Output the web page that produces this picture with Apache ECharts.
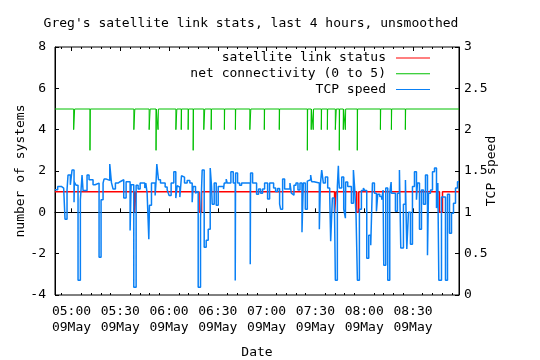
<!DOCTYPE html>
<html><head><meta charset="utf-8">
<script src="https://cdn.jsdelivr.net/npm/echarts@6/dist/echarts.min.js"></script>
<style>html,body{margin:0;padding:0;background:#fff}#c{width:540px;height:360px}</style>
</head><body><div id="c"></div>
<script>
const titleText = "Greg's satellite link stats, last 4 hours, unsmoothed";
const seriesNames = ['satellite link status', 'net connectivity (0 to 5)', 'TCP speed'];
const xName = 'Date', yName = 'number of systems', y2Name = 'TCP speed';
const dayLabel = '09May';
// time in minutes after midnight
const timeMin = 289.85, timeMax = 538.3;
const majorTicks = [300, 330, 360, 390, 420, 450, 480, 510];
const minorTicks = [294, 306, 312, 318, 324, 336, 342, 348, 354, 366, 372, 378, 384, 396, 402, 408, 414, 426, 432, 438, 444, 456, 462, 468, 474, 486, 492, 498, 504, 516, 522, 528, 534];

const linkTimes  = [289.85, 338.75, 339.58, 378.45, 380.00, 461.78, 462.71, 475.42, 476.66, 526.29, 528.15, 538.3];
const linkStatus = [1, 0, 1, 0, 1, 0, 1, 0, 1, 0, 1, 1];

const netTimes = [289.85, 301.33, 301.93, 311.36, 311.56, 338.34, 338.94, 347.75, 348.35, 351.99, 352.19,
  353.23, 353.43, 364.19, 364.79, 367.49, 367.69, 371.73, 371.93, 374.83, 375.03, 381.35, 381.95,
  385.90, 386.10, 394.01, 394.21, 400.78, 400.98, 409.67, 410.27, 418.57, 418.77, 427.77, 427.97,
  445.03, 445.23, 447.41, 447.61, 448.65, 448.85, 453.61, 453.81, 457.33, 457.53, 462.24, 462.84,
  464.67, 464.87, 467.15, 467.35, 468.40, 468.60, 475.74, 475.94, 489.95, 490.15, 496.72, 496.92,
  505.30, 505.50, 538.3];
const netConn = [5, 4, 5, 3, 5, 4, 5, 4, 5, 3, 5,
  4, 5, 4, 5, 4, 5, 4, 5, 3, 5, 4, 5,
  4, 5, 4, 5, 4, 5, 4, 5, 4, 5, 4, 5,
  3, 5, 4, 5, 4, 5, 4, 5, 4, 5, 4, 5,
  3, 5, 4, 5, 4, 5, 3, 5, 4, 5, 4, 5,
  4, 5, 5];

const tcpTimes = [289.85, 291.50, 293.75, 295.19, 296.01, 297.25, 297.86, 299.29, 300.32, 301.56, 301.75, 302.79,
  304.02, 305.45, 306.48, 307.10, 309.56, 310.79, 313.25, 314.49, 316.95, 318.18, 319.41, 320.02, 321.46,
  323.52, 324.54, 325.56, 327.00, 328.64, 329.87, 332.14, 333.58, 336.04, 336.66, 338.30, 339.74, 340.97,
  342.20, 345.07, 345.69, 346.51, 347.54, 347.95, 349.18, 351.44, 352.05, 352.46, 353.49, 354.72, 357.59,
  358.82, 360.03, 361.27, 362.91, 364.14, 364.96, 365.79,
  366.62, 367.64, 368.26, 369.49, 371.13, 372.78, 374.21, 374.83, 376.27, 377.09, 377.91, 379.34, 380.37,
  381.60, 382.84, 384.07, 385.30, 386.12, 386.53, 387.76, 388.99, 390.22, 393.51, 393.92, 395.15, 395.76,
  398.02, 399.46, 400.69, 400.90, 402.13, 403.36, 404.59, 409.92, 410.13, 411.36, 413.82, 415.05, 416.28,
  417.51, 418.75, 420.59, 421.82, 424.29, 425.52, 426.75, 427.98, 428.60, 429.83, 431.06, 434.35, 435.17,
  436.00, 436.81, 438.04, 439.27, 440.51, 441.74, 442.56, 443.79, 445.02, 445.85, 447.08,
  447.69, 449.13, 452.41, 453.03, 453.86, 454.88, 456.11, 457.55, 458.78, 459.39, 460.42, 461.65, 462.26,
  463.49, 464.11, 464.32, 464.74, 466.17, 467.40, 468.43, 468.63, 469.86, 472.12, 473.36, 474.17, 474.99,
  475.82, 477.05, 478.28, 479.51, 480.34, 481.57, 482.80, 484.03, 485.06, 486.29, 487.52, 488.34, 489.57,
  490.80, 491.62, 492.03, 493.26, 494.49, 495.72, 496.55, 496.75, 499.21, 500.44, 501.67, 502.49, 504.13,
  505.36, 506.19, 507.22, 508.45, 509.68, 510.91, 512.14, 512.76, 513.99, 515.22, 516.45, 517.69, 518.92,
  519.53, 520.76, 522.00, 523.23, 524.46, 525.28, 525.89, 527.53, 529.99, 531.23, 532.46, 533.69, 534.92,
  536.15, 537.38, 538.3];
const tcpSpeed = [1.273, 1.313, 1.293, 1.281, 0.917, 1.273, 1.451, 1.333, 1.511, 1.123, 1.366, 1.329,
  0.178, 1.152, 1.451, 1.265, 1.451, 1.394, 1.333, 1.354, 0.457, 1.152, 1.354, 1.402, 1.386,
  1.584, 1.362, 1.281, 1.354, 1.370, 1.394, 1.172, 1.370, 0.780, 1.333, 0.093, 1.329, 1.281,
  1.354, 1.293, 1.354, 1.232, 0.675, 1.087, 1.354, 1.204, 1.394, 1.584, 1.394, 1.354, 1.305,
  1.273, 1.204, 1.354, 1.491, 1.172, 1.321, 1.305,
  1.184, 1.442, 1.426, 1.354, 1.386, 1.354, 1.123, 1.313, 1.232, 1.253, 0.093, 0.929, 1.511,
  0.578, 0.663, 0.796, 1.535, 1.313, 1.099, 1.354, 1.087, 1.313, 1.281, 1.354, 1.402, 1.354,
  1.491, 1.354, 0.174, 1.475, 1.354, 1.329, 1.354, 0.372, 1.475, 1.354, 1.220, 1.281, 1.232,
  1.281, 1.354, 1.160, 1.354, 1.293, 1.253, 1.289, 1.099, 1.038, 1.402, 1.281, 1.354, 1.232,
  1.208, 1.329, 1.354, 1.269, 1.354, 0.760, 1.354, 1.038, 1.378, 1.394, 1.451,
  1.370, 1.354, 0.796, 1.329, 1.511, 1.354, 1.426, 1.293, 1.212, 0.650, 1.172, 1.160, 0.178,
  1.313, 1.564, 1.422, 1.293, 1.426, 1.038, 0.929, 1.366, 1.313, 1.111, 1.511, 1.281, 0.966,
  0.178, 1.038, 1.265, 1.293, 1.265, 0.444, 0.723, 0.602, 1.354, 1.232, 1.010, 1.220, 1.192,
  1.152, 1.269, 0.360, 1.293, 0.178, 1.232, 1.366, 1.232, 1.014, 1.232, 1.511, 0.570, 1.099,
  1.390, 0.558, 1.002, 0.614, 1.313, 1.491, 1.152, 1.354, 0.796, 1.269, 1.099, 1.451, 0.481,
  1.232, 1.269, 1.491, 1.535, 1.051, 1.354, 0.178, 1.184, 0.178, 1.220, 0.747, 0.990, 1.111,
  1.293, 1.370, 1.370];

const FONT = 'DejaVu Sans Mono';
const FS = 13;
const txt = {fontFamily: FONT, fontSize: FS, color: '#000'};
const pair = (xs, ys) => xs.map((x, i) => [x, ys[i]]);
const pad = n => (n < 10 ? '0' : '') + n;
const fmtTime = v => { const h = Math.floor(v / 60), m = Math.round(v - h * 60); return pad(h) + ':' + pad(m) + '\n' + dayLabel; };

const blk = {color: '#000', width: 1};
function xAx(pos, ticks, len, labels) {
  return {
    type: 'value', min: timeMin, max: timeMax, position: pos,
    axisLine: {show: labels, lineStyle: blk},
    axisTick: {show: true, inside: true, length: len, customValues: ticks, lineStyle: blk},
    axisLabel: labels ? Object.assign({show: true, customValues: ticks, formatter: fmtTime, lineHeight: 16, margin: 9}, txt) : {show: false},
    splitLine: {show: false},
    name: labels ? xName : '', nameLocation: 'middle', nameGap: 50, nameMoveOverlap: false,
    nameTextStyle: Object.assign({lineHeight: 16}, txt)
  };
}

const chart = echarts.init(document.getElementById('c'), null, {renderer: 'canvas'});
const colors = ['#ff0000', '#00c000', '#0a80f5'];
chart.setOption({
  animation: false,
  backgroundColor: '#fff',
  title: {text: titleText, left: 251, top: 16, textAlign: 'center', padding: 0,
    textStyle: Object.assign({fontWeight: 'normal', lineHeight: 16}, txt)},
  grid: {left: 55, right: 81, top: 47, bottom: 65, show: true, borderColor: '#000', borderWidth: 1,
    backgroundColor: 'transparent', containLabel: false, outerBoundsMode: 'none'},
  legend: seriesNames.map((n, i) => ({
    data: [n], right: 110, top: 50 + i * 15.8, orient: 'vertical', align: 'right', padding: 0,
    icon: 'rect', itemWidth: 34, itemHeight: 1, selectedMode: false,
    textStyle: Object.assign({padding: [0, 5, 0, 0], lineHeight: 16}, txt)
  })),
  xAxis: [xAx('bottom', majorTicks, 4, true), xAx('bottom', minorTicks, 2, false),
          xAx('top', majorTicks, 4, false), xAx('top', minorTicks, 2, false)],
  yAxis: [
    {type: 'value', min: -4, max: 8, interval: 2, position: 'left',
     axisLine: {show: true, lineStyle: blk}, axisTick: {inside: true, length: 4, lineStyle: blk},
     axisLabel: Object.assign({margin: 9}, txt), splitLine: {show: false},
     name: yName, nameLocation: 'middle', nameGap: 28, nameRotate: 90, nameMoveOverlap: false, nameTextStyle: txt},
    {type: 'value', min: 0, max: 3, interval: 0.5, position: 'right',
     axisLine: {show: true, lineStyle: blk}, axisTick: {inside: true, length: 4, lineStyle: blk},
     axisLabel: Object.assign({margin: 5}, txt), splitLine: {show: false},
     name: y2Name, nameLocation: 'middle', nameGap: 26, nameRotate: 90, nameMoveOverlap: false, nameTextStyle: txt}
  ],
  series: [
    {name: seriesNames[0], type: 'line', step: 'end', xAxisIndex: 0, yAxisIndex: 0, showSymbol: false, symbol: 'none',
     color: colors[0], lineStyle: {color: colors[0], width: 1.5}, data: pair(linkTimes, linkStatus), z: 2},
    {name: seriesNames[1], type: 'line', step: 'end', xAxisIndex: 0, yAxisIndex: 0, showSymbol: false, symbol: 'none',
     color: colors[1], lineStyle: {color: colors[1], width: 1}, data: pair(netTimes, netConn), z: 3},
    {name: seriesNames[2], type: 'line', step: 'end', xAxisIndex: 0, yAxisIndex: 1, showSymbol: false, symbol: 'none',
     color: colors[2], lineStyle: {color: colors[2], width: 1.5}, data: pair(tcpTimes, tcpSpeed), z: 4}
  ]
});
</script></body></html>
